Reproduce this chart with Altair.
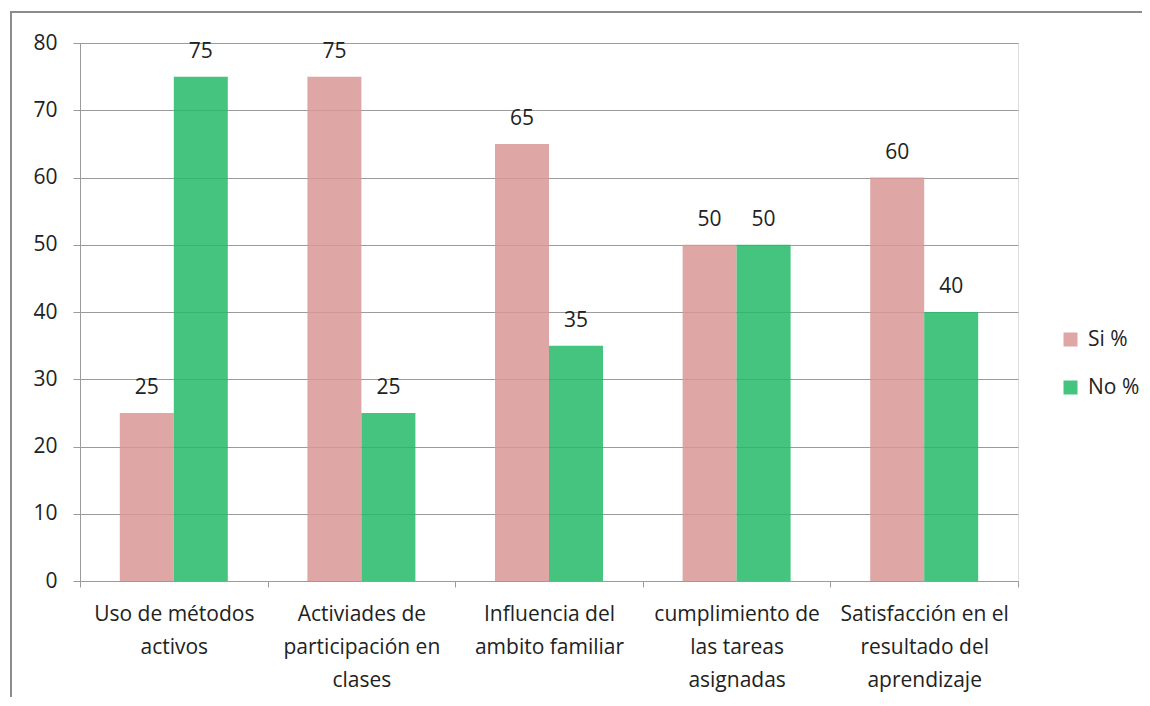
import altair as alt
import pandas as pd

categories = [
    "Uso de métodos|activos",
    "Activiades de|participación en|clases",
    "Influencia del|ambito familiar",
    "cumplimiento de|las tareas|asignadas",
    "Satisfacción en el|resultado del|aprendizaje",
]
series = ["Si %", "No %"]
si_values = [25, 75, 65, 50, 60]
no_values = [75, 25, 35, 50, 40]
y_ticks = [0, 10, 20, 30, 40, 50, 60, 70, 80]
colors = ["#D99796", "#23BA67"]

rows = []
for c, s, n in zip(categories, si_values, no_values):
    rows.append({"cat": c, "serie": "Si %", "val": s})
    rows.append({"cat": c, "serie": "No %", "val": n})
df = pd.DataFrame(rows)

FONT = "Open Sans"
FS = 21
W, H = 938, 538

x = alt.X(
    "cat:N",
    sort=categories,
    title=None,
    scale=alt.Scale(paddingInner=0, paddingOuter=0),
    axis=alt.Axis(
        labelExpr="split(datum.label, '|')",
        labelAngle=0,
        labelFont=FONT,
        labelFontSize=FS,
        labelColor="#222222",
        labelLineHeight=33,
        labelPadding=16,
        labelBaseline="top",
        tickBand="extent",
        tickSize=6,
        tickColor="#9b9b9b",
        domainColor="#9b9b9b",
        grid=False,
    ),
)
xo = alt.XOffset("serie:N", sort=series, scale=alt.Scale(paddingInner=0, paddingOuter=0.737))
y = alt.Y(
    "val:Q",
    title=None,
    scale=alt.Scale(domain=[0, 80]),
    axis=alt.Axis(
        values=y_ticks,
        labelFont=FONT,
        labelFontSize=FS,
        labelColor="#222222",
        labelPadding=16,
        tickSize=7,
        tickColor="#9b9b9b",
        domainColor="#9b9b9b",
        gridColor="#9b9b9b",
        grid=True,
    ),
)
color = alt.Color(
    "serie:N",
    sort=series,
    scale=alt.Scale(domain=series, range=colors),
    legend=alt.Legend(
        title=None,
        orient="none",
        legendX=980,
        legendY=286,
        symbolType="square",
        symbolSize=196,
        symbolStrokeWidth=0,
        symbolOpacity=0.85,
        labelFont=FONT,
        labelFontSize=FS,
        labelColor="#222222",
        rowPadding=26,
        labelOffset=7,
    ),
)

bars = alt.Chart(df).mark_bar(opacity=0.85).encode(x=x, xOffset=xo, y=y, color=color)
labels = alt.Chart(df).mark_text(
    font=FONT, fontSize=FS, color="#222222", baseline="bottom", dy=-15
).encode(x=x, xOffset=xo, y=y, text="val:Q")

border = alt.Chart(pd.DataFrame({"a": [0]})).mark_rect(
    fill=None, stroke="#8c8c8c", strokeWidth=2, clip=False
).encode(
    x=alt.value(-69), x2=alt.value(1200), y=alt.value(-31), y2=alt.value(800)
)

chart = (
    alt.layer(border, bars, labels)
    .properties(
        width=W,
        height=H,
        autosize=alt.AutoSizeParams(type="none"),
        padding={"left": 72, "top": 35, "right": 124, "bottom": 116},
    )
    .configure_view(stroke=None)
    .configure(background="white")
)

chart.save("out.html", embed_options={"renderer": "svg", "actions": False})
